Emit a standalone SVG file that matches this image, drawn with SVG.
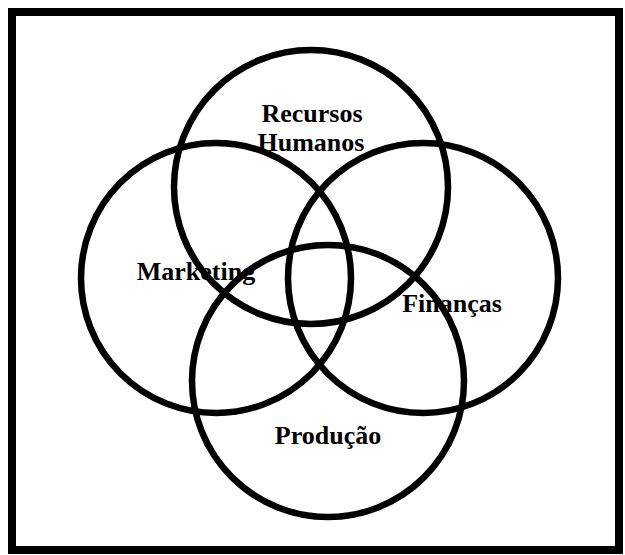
<svg xmlns="http://www.w3.org/2000/svg" width="625" height="555" viewBox="0 0 625 555">
<style>
.c{fill:none;stroke:#000;stroke-width:6.5}
.t{font-family:"Liberation Serif","Times New Roman",serif;font-weight:bold;font-size:26px;fill:#000;text-anchor:middle}
</style>
<rect x="0" y="0" width="625" height="555" fill="#fff"/>
<rect id="frame" x="12" y="12" width="607" height="538" fill="none" stroke="#000" stroke-width="8"/>
<g id="recursos-humanos">
<circle class="c" cx="311" cy="187" r="137"/>
<text class="t" x="312" y="122">Recursos</text>
<text class="t" x="311" y="151">Humanos</text>
</g>
<g id="marketing">
<circle class="c" cx="216" cy="278" r="135"/>
<text class="t" x="196" y="280">Marketing</text>
</g>
<g id="financas">
<circle class="c" cx="423" cy="278" r="135"/>
<text class="t" x="452" y="312">Finanças</text>
</g>
<g id="producao">
<circle class="c" cx="328" cy="381" r="136"/>
<text class="t" x="328" y="444">Produção</text>
</g>
<g id="connectors"></g>
</svg>
